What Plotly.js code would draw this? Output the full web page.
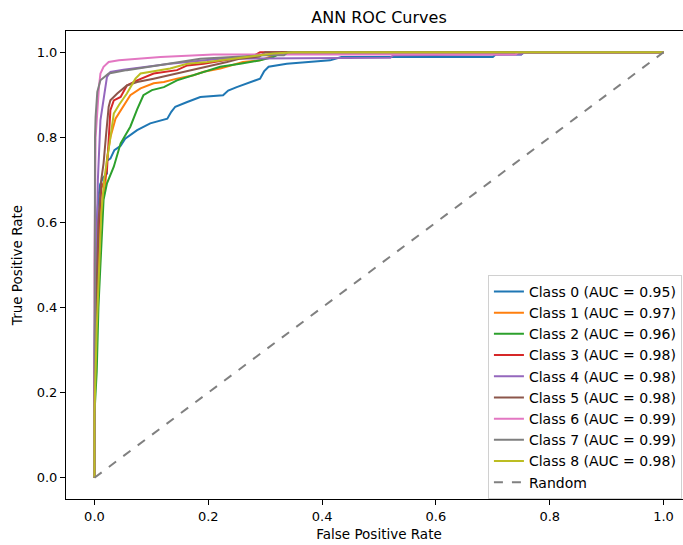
<!DOCTYPE html>
<html>
<head>
<meta charset="utf-8">
<script src="https://cdn.plot.ly/plotly-3.0.1.min.js"></script>
<style>
html, body { margin: 0; padding: 0; overflow: hidden; background: #fff; }
#chart { width: 700px; height: 545px; }
</style>
</head>
<body>
<div id="chart"></div>
<script>
const classNames = ["Class 0", "Class 1", "Class 2", "Class 3", "Class 4", "Class 5", "Class 6", "Class 7", "Class 8"];
const aucValues = [0.95, 0.97, 0.96, 0.98, 0.98, 0.98, 0.99, 0.99, 0.98];
const colors = ["#1f77b4", "#ff7f0e", "#2ca02c", "#d62728", "#9467bd", "#8c564b", "#e377c2", "#7f7f7f", "#bcbd22"];

const fpr0 = [0, 0, 0.002, 0.004, 0.007, 0.01, 0.015, 0.022, 0.022, 0.028, 0.035, 0.046, 0.054, 0.075, 0.098, 0.128, 0.135, 0.142, 0.163, 0.186, 0.226, 0.235, 0.25, 0.27, 0.291, 0.298, 0.306, 0.338, 0.414, 0.434, 0.7, 0.705, 0.75, 0.755, 1];
const tpr0 = [0, 0.3, 0.5, 0.6, 0.66, 0.69, 0.705, 0.715, 0.745, 0.75, 0.77, 0.78, 0.797, 0.817, 0.833, 0.844, 0.86, 0.872, 0.883, 0.895, 0.899, 0.91, 0.918, 0.928, 0.938, 0.955, 0.966, 0.973, 0.981, 0.989, 0.989, 0.995, 0.995, 1, 1];

const fpr1 = [0, 0, 0.005, 0.01, 0.015, 0.019, 0.022, 0.028, 0.037, 0.046, 0.063, 0.081, 0.104, 0.122, 0.145, 0.174, 0.192, 0.221, 0.239, 0.261, 0.291, 0.3, 0.33, 1];
const tpr1 = [0, 0.2, 0.45, 0.6, 0.66, 0.684, 0.75, 0.8, 0.844, 0.864, 0.899, 0.915, 0.927, 0.93, 0.938, 0.946, 0.954, 0.962, 0.969, 0.977, 0.981, 0.985, 1, 1];

const fpr2 = [0, 0, 0.004, 0.007, 0.0105, 0.016, 0.022, 0.034, 0.046, 0.063, 0.075, 0.086, 0.101, 0.122, 0.145, 0.174, 0.221, 0.256, 0.275, 0.291, 0.314, 0.33, 1];
const tpr2 = [0, 0.15, 0.25, 0.4, 0.5, 0.653, 0.692, 0.731, 0.786, 0.825, 0.866, 0.899, 0.911, 0.918, 0.934, 0.946, 0.966, 0.973, 0.978, 0.981, 0.989, 1, 1];

const fpr3 = [0, 0, 0.004, 0.008, 0.012, 0.018, 0.022, 0.028, 0.034, 0.046, 0.057, 0.075, 0.104, 0.145, 0.163, 0.192, 0.244, 0.28, 0.291, 1];
const tpr3 = [0, 0.25, 0.45, 0.6, 0.68, 0.7, 0.723, 0.864, 0.887, 0.895, 0.922, 0.934, 0.95, 0.958, 0.969, 0.973, 0.985, 0.992, 1, 1];

const fpr4 = [0, 0, 0.003, 0.006, 0.0105, 0.016, 0.022, 0.028, 0.051, 0.133, 0.221, 0.52, 0.525, 0.75, 0.755, 1];
const tpr4 = [0, 0.3, 0.5, 0.7, 0.84, 0.895, 0.942, 0.954, 0.959, 0.973, 0.985, 0.987, 0.993, 0.995, 1, 1];

const fpr5 = [0, 0, 0.003, 0.007, 0.012, 0.016, 0.02, 0.025, 0.028, 0.04, 0.057, 0.075, 0.104, 0.145, 0.186, 0.233, 0.256, 0.29, 0.3, 1];
const tpr5 = [0, 0.15, 0.4, 0.6, 0.7, 0.739, 0.8, 0.872, 0.887, 0.903, 0.922, 0.93, 0.938, 0.95, 0.962, 0.977, 0.985, 0.99, 1, 1];

const fpr6 = [0, 0, 0.002, 0.005, 0.008, 0.0105, 0.016, 0.025, 0.043, 0.116, 0.209, 0.74, 0.745, 1];
const tpr6 = [0, 0.5, 0.8, 0.87, 0.92, 0.95, 0.966, 0.977, 0.981, 0.989, 0.995, 0.995, 1, 1];

const fpr7 = [0, 0, 0.001, 0.002, 0.005, 0.0105, 0.025, 0.057, 0.133, 0.186, 0.3, 0.333, 0.34, 1];
const tpr7 = [0, 0.6, 0.8, 0.848, 0.907, 0.934, 0.95, 0.958, 0.973, 0.985, 0.993, 0.993, 1, 1];

const fpr8 = [0, 0, 0.004, 0.008, 0.012, 0.017, 0.022, 0.028, 0.034, 0.043, 0.057, 0.072, 0.081, 0.133, 0.163, 0.198, 0.244, 0.314, 0.35, 1];
const tpr8 = [0, 0.15, 0.35, 0.5, 0.62, 0.7, 0.75, 0.8, 0.856, 0.876, 0.903, 0.938, 0.95, 0.962, 0.973, 0.977, 0.985, 0.997, 1, 1];

const randomX = [0, 1];
const randomY = [0, 1];

const allFpr = [fpr0, fpr1, fpr2, fpr3, fpr4, fpr5, fpr6, fpr7, fpr8];
const allTpr = [tpr0, tpr1, tpr2, tpr3, tpr4, tpr5, tpr6, tpr7, tpr8];

const font = "DejaVu Sans, sans-serif";
const traces = classNames.map((n, i) => ({
  x: allFpr[i], y: allTpr[i], type: "scatter", mode: "lines",
  name: n + " (AUC = " + aucValues[i].toFixed(2) + ")",
  line: { color: colors[i], width: 2 }
}));
traces.push({
  x: randomX, y: randomY, type: "scatter", mode: "lines", name: "Random",
  line: { color: "#808080", width: 2, dash: "dash" }
});

const axisCommon = {
  showgrid: false, zeroline: false, showline: true, mirror: true,
  linecolor: "#000", linewidth: 1, ticks: "outside", ticklen: 5, tickwidth: 1,
  tickcolor: "#000", tickfont: { family: font, size: 13, color: "#000" },
  range: [-0.05, 1.05], dtick: 0.2, tickformat: ".1f"
};

const layout = {
  width: 700, height: 545,
  margin: { l: 65.5, r: 7.5, t: 31, b: 45.5 },
  paper_bgcolor: "#fff", plot_bgcolor: "#fff",
  font: { family: font, color: "#000" },
  title: { text: "ANN ROC Curves", font: { family: font, size: 16, color: "#000" }, x: 379 / 700, xanchor: "center", y: 1 - 17 / 545, yanchor: "middle" },
  xaxis: Object.assign({}, axisCommon, { title: { text: "False Positive Rate", font: { family: font, size: 13.5, color: "#000" }, standoff: 6 } }),
  yaxis: Object.assign({}, axisCommon, { title: { text: "True Positive Rate", font: { family: font, size: 13.5, color: "#000" }, standoff: 10 } }),
  showlegend: true,
  legend: {
    x: 0.674, y: 0.479, xanchor: "left", yanchor: "top",
    bgcolor: "rgba(255,255,255,0.9)", bordercolor: "#d0d0d0", borderwidth: 1,
    font: { family: font, size: 14, color: "#000" },
    itemwidth: 30, tracegroupgap: 0
  }
};

Plotly.newPlot("chart", traces, layout, { staticPlot: true, displayModeBar: false });
</script>
</body>
</html>
